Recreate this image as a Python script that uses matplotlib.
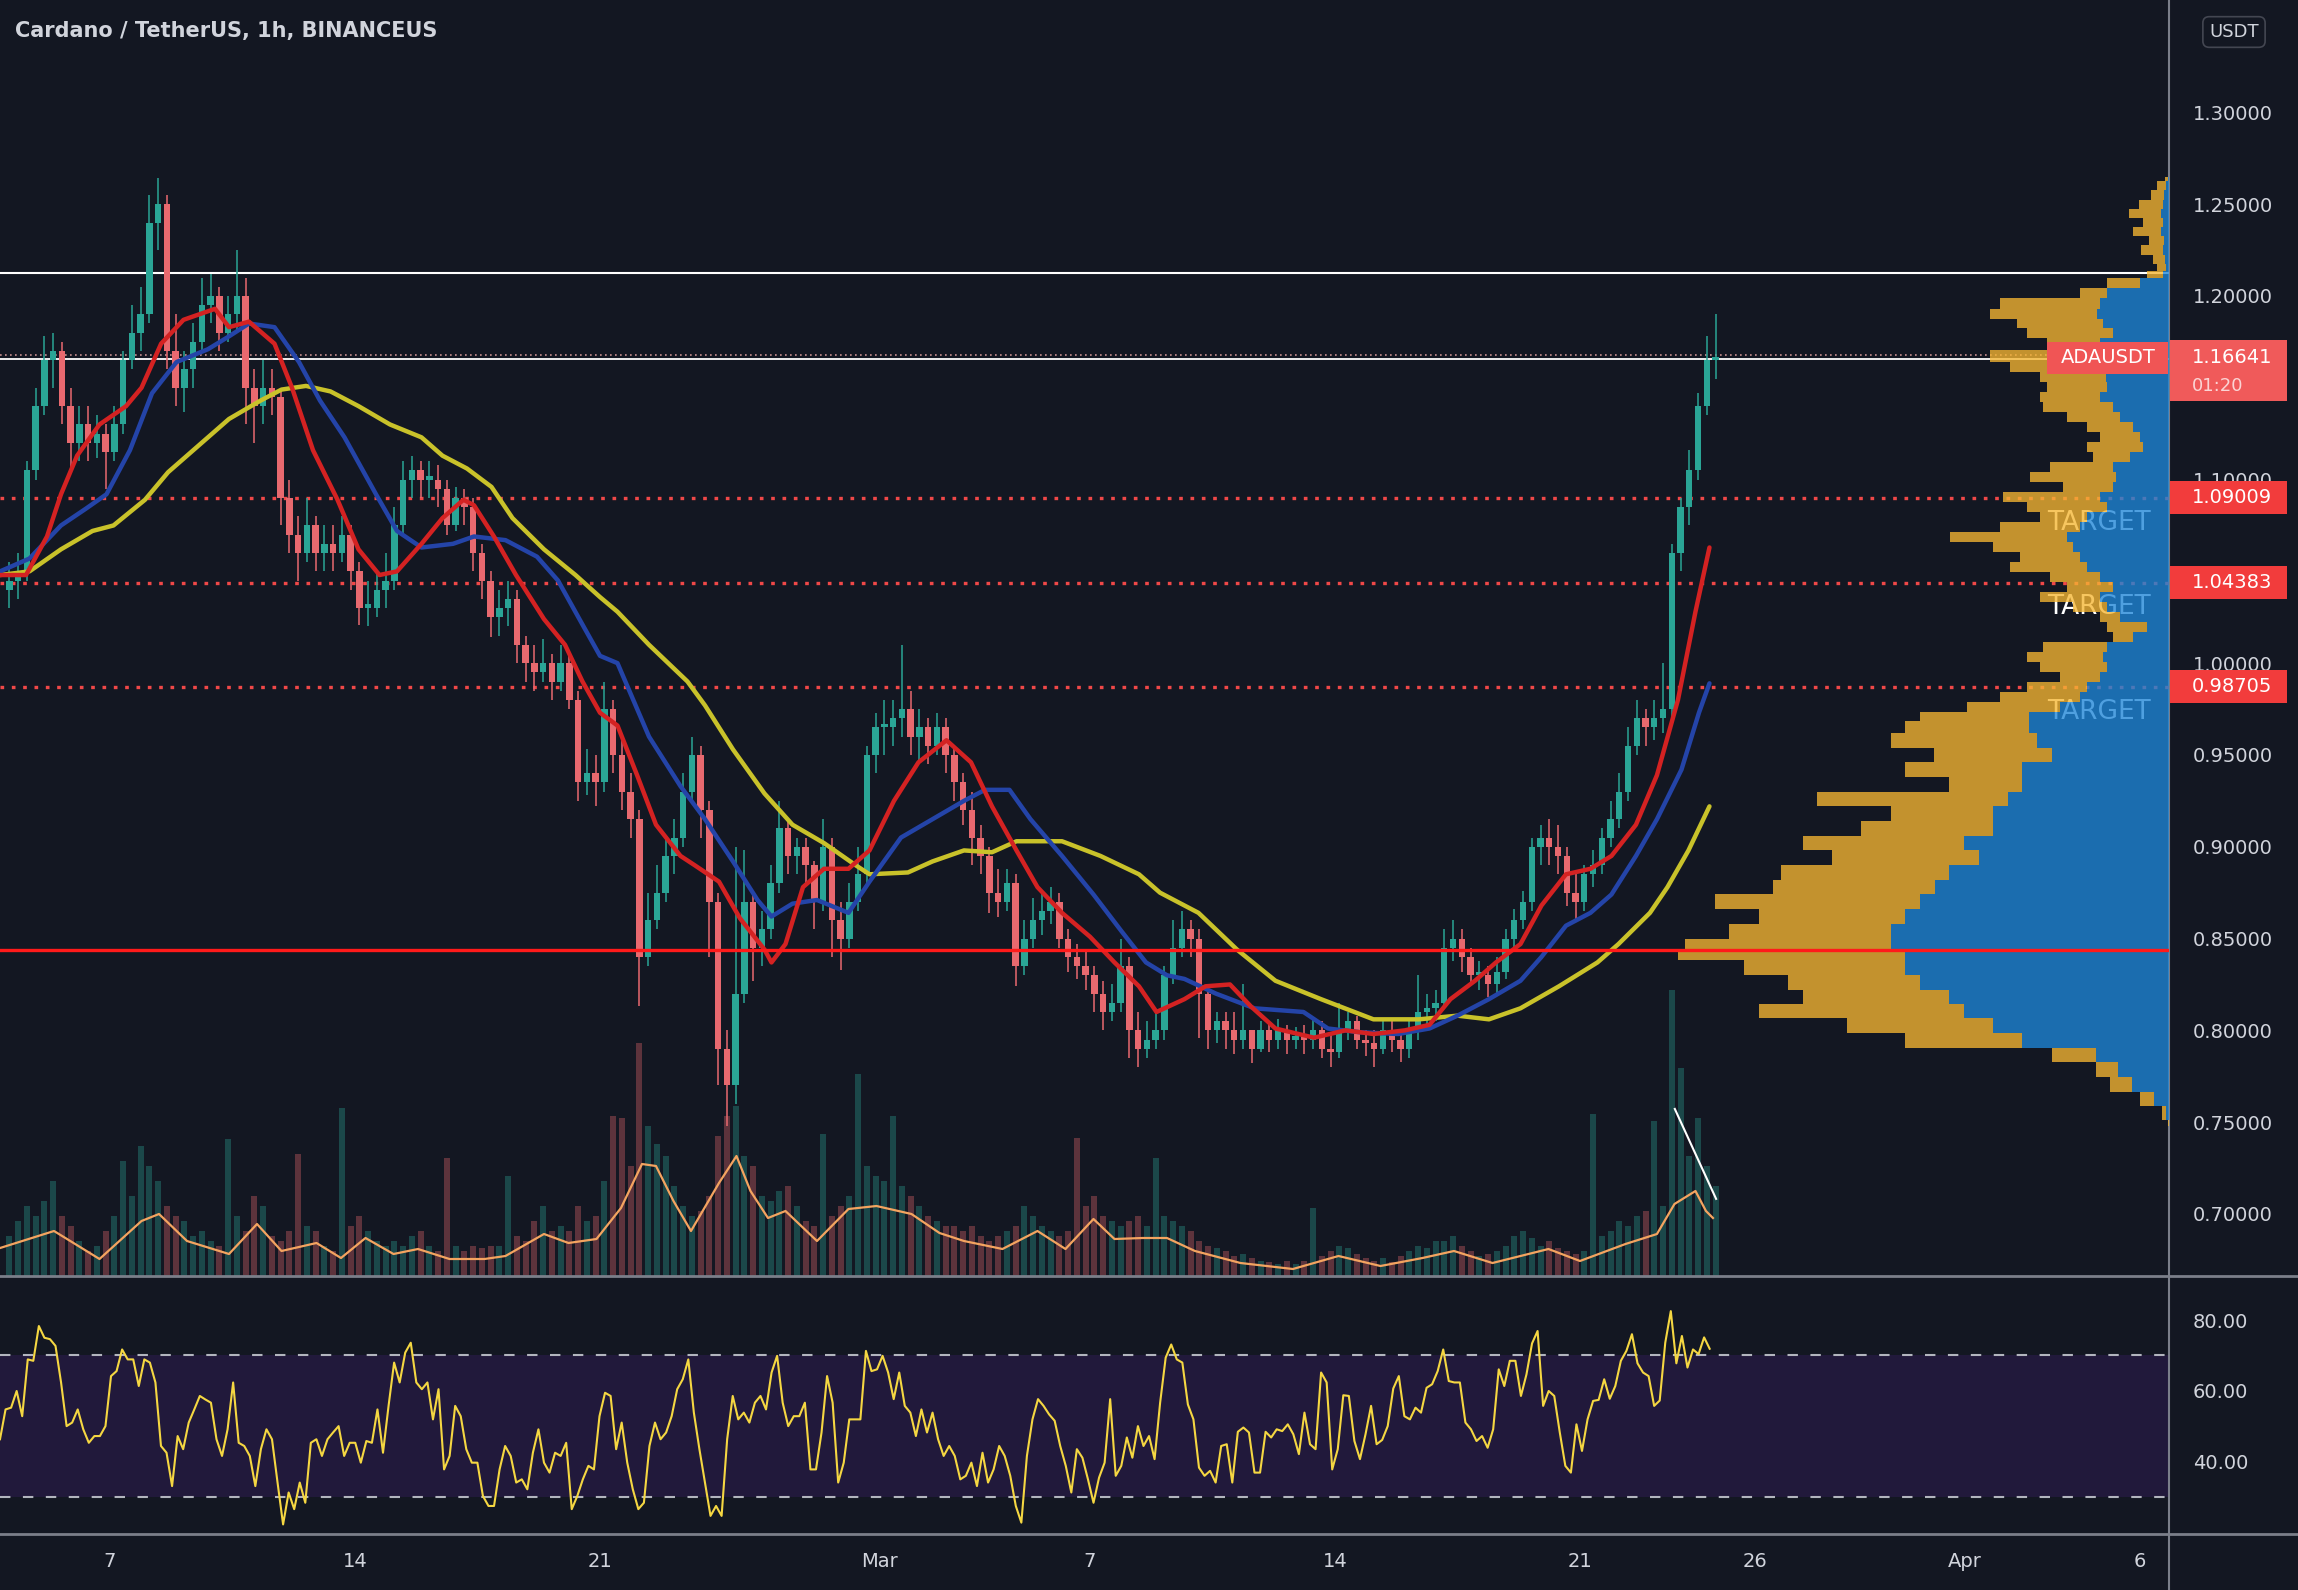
import numpy as np
import matplotlib.pyplot as plt
from matplotlib.patches import Rectangle
from matplotlib.lines import Line2D

# time axis: days counted from 1 Feb 2022 00:00 (Feb 7 = 6, Mar 1 = 28, Apr 1 = 59)
# candles resampled to 6 hours, first one opens 4 Feb 00:00
candle_start = 3.0
candle_step = 0.25
first_open = 1.04

close = [1.045, 1.05, 1.105, 1.14, 1.165, 1.17, 1.14, 1.12, 1.13, 1.12, 1.125, 1.115,
         1.13, 1.165, 1.18, 1.19, 1.24, 1.25, 1.17, 1.15, 1.16, 1.175, 1.195, 1.2,
         1.18, 1.19, 1.2, 1.15, 1.14, 1.15, 1.145, 1.09, 1.07, 1.06, 1.075, 1.06,
         1.065, 1.06, 1.07, 1.05, 1.03, 1.03, 1.04, 1.045, 1.075, 1.1, 1.105, 1.1,
         1.1, 1.095, 1.075, 1.09, 1.085, 1.06, 1.045, 1.025, 1.03, 1.035, 1.01, 1.0,
         0.995, 1.0, 0.99, 1.0, 0.98, 0.935, 0.94, 0.935, 0.975, 0.95, 0.93, 0.915,
         0.84, 0.86, 0.875, 0.895, 0.905, 0.93, 0.95, 0.92, 0.87, 0.79, 0.77, 0.82,
         0.87, 0.845, 0.855, 0.88, 0.91, 0.895, 0.9, 0.89, 0.87, 0.9, 0.86, 0.85,
         0.87, 0.885, 0.95, 0.965, 0.965, 0.97, 0.975, 0.96, 0.965, 0.955, 0.965, 0.95,
         0.935, 0.92, 0.905, 0.895, 0.875, 0.87, 0.88, 0.835, 0.85, 0.86, 0.865, 0.87,
         0.85, 0.84, 0.835, 0.83, 0.82, 0.81, 0.815, 0.835, 0.8, 0.79, 0.795, 0.8,
         0.83, 0.845, 0.855, 0.85, 0.82, 0.8, 0.805, 0.8, 0.795, 0.8, 0.79, 0.8,
         0.795, 0.8, 0.795, 0.797, 0.795, 0.8, 0.79, 0.788, 0.8, 0.805, 0.795, 0.793,
         0.79, 0.8, 0.795, 0.79, 0.8, 0.81, 0.812, 0.815, 0.845, 0.85, 0.84, 0.83,
         0.83, 0.825, 0.832, 0.85, 0.86, 0.87, 0.9, 0.905, 0.9, 0.895, 0.875, 0.87,
         0.885, 0.89, 0.905, 0.915, 0.93, 0.955, 0.97, 0.965, 0.97, 0.975, 1.06, 1.085,
         1.105, 1.14, 1.165, 1.166]
high = [1.055, 1.06, 1.11, 1.15, 1.178, 1.18, 1.175, 1.15, 1.14, 1.14, 1.135, 1.13,
        1.14, 1.17, 1.195, 1.205, 1.255, 1.264, 1.255, 1.19, 1.17, 1.185, 1.21, 1.212,
        1.205, 1.2, 1.225, 1.21, 1.16, 1.165, 1.16, 1.15, 1.1, 1.08, 1.09, 1.08,
        1.075, 1.075, 1.08, 1.075, 1.055, 1.045, 1.05, 1.06, 1.085, 1.11, 1.113, 1.11,
        1.11, 1.108, 1.1, 1.096, 1.095, 1.09, 1.065, 1.05, 1.04, 1.045, 1.04, 1.015,
        1.01, 1.013, 1.005, 1.01, 1.005, 0.985, 0.953, 0.95, 0.99, 0.98, 0.96, 0.94,
        0.92, 0.875, 0.89, 0.905, 0.915, 0.94, 0.96, 0.955, 0.925, 0.875, 0.8, 0.9,
        0.898, 0.875, 0.865, 0.89, 0.925, 0.915, 0.905, 0.905, 0.892, 0.915, 0.905, 0.87,
        0.88, 0.9, 0.955, 0.973, 0.98, 0.98, 1.01, 0.985, 0.975, 0.97, 0.973, 0.97,
        0.955, 0.94, 0.93, 0.912, 0.9, 0.888, 0.888, 0.885, 0.86, 0.872, 0.874, 0.878,
        0.875, 0.855, 0.847, 0.843, 0.835, 0.827, 0.825, 0.85, 0.84, 0.81, 0.805, 0.81,
        0.835, 0.86, 0.865, 0.86, 0.855, 0.825, 0.81, 0.81, 0.81, 0.825, 0.8, 0.805,
        0.805, 0.806, 0.803, 0.802, 0.803, 0.806, 0.805, 0.798, 0.815, 0.81, 0.808, 0.8,
        0.8, 0.806, 0.805, 0.8, 0.805, 0.83, 0.82, 0.822, 0.855, 0.86, 0.855, 0.845,
        0.838, 0.835, 0.84, 0.855, 0.866, 0.876, 0.905, 0.912, 0.915, 0.912, 0.9, 0.885,
        0.89, 0.898, 0.91, 0.925, 0.94, 0.965, 0.98, 0.975, 0.98, 1.0, 1.065, 1.09,
        1.116, 1.147, 1.178, 1.19]
low = [1.03, 1.035, 1.045, 1.1, 1.135, 1.15, 1.13, 1.105, 1.11, 1.11, 1.112, 1.095,
       1.11, 1.125, 1.16, 1.17, 1.185, 1.225, 1.16, 1.14, 1.137, 1.15, 1.17, 1.185,
       1.17, 1.175, 1.18, 1.13, 1.12, 1.13, 1.135, 1.075, 1.06, 1.045, 1.055, 1.05,
       1.05, 1.05, 1.055, 1.04, 1.021, 1.02, 1.025, 1.03, 1.04, 1.07, 1.09, 1.09,
       1.09, 1.085, 1.07, 1.072, 1.075, 1.05, 1.035, 1.014, 1.015, 1.02, 1.0, 0.99,
       0.985, 0.99, 0.98, 0.985, 0.975, 0.925, 0.928, 0.922, 0.93, 0.94, 0.92, 0.905,
       0.813, 0.835, 0.855, 0.87, 0.885, 0.9, 0.925, 0.905, 0.84, 0.77, 0.748, 0.76,
       0.815, 0.827, 0.835, 0.85, 0.875, 0.885, 0.885, 0.88, 0.855, 0.865, 0.84, 0.833,
       0.845, 0.865, 0.88, 0.94, 0.95, 0.955, 0.96, 0.95, 0.945, 0.945, 0.95, 0.94,
       0.925, 0.912, 0.89, 0.885, 0.864, 0.862, 0.865, 0.824, 0.83, 0.845, 0.852, 0.858,
       0.845, 0.832, 0.828, 0.822, 0.81, 0.8, 0.805, 0.81, 0.785, 0.78, 0.785, 0.79,
       0.795, 0.825, 0.84, 0.84, 0.796, 0.79, 0.793, 0.79, 0.787, 0.79, 0.782, 0.788,
       0.788, 0.79, 0.787, 0.79, 0.787, 0.79, 0.785, 0.78, 0.785, 0.795, 0.79, 0.786,
       0.78, 0.787, 0.788, 0.783, 0.785, 0.795, 0.803, 0.805, 0.812, 0.838, 0.832, 0.825,
       0.822, 0.818, 0.82, 0.828, 0.845, 0.855, 0.865, 0.89, 0.89, 0.885, 0.868, 0.86,
       0.865, 0.878, 0.885, 0.9, 0.91, 0.925, 0.95, 0.955, 0.958, 0.962, 0.97, 1.05,
       1.075, 1.1, 1.135, 1.155]
volume = [40, 55, 70, 60, 75, 95, 60, 50, 35, 25, 30, 45, 60, 115, 80, 130,
          110, 95, 70, 60, 55, 40, 45, 35, 30, 137, 60, 45, 80, 70, 40, 35,
          45, 122, 50, 45, 30, 25, 168, 50, 60, 45, 35, 30, 35, 30, 40, 45,
          30, 25, 118, 30, 25, 30, 28, 30, 30, 100, 40, 35, 55, 70, 45, 50,
          45, 70, 55, 60, 95, 160, 158, 110, 233, 150, 132, 120, 90, 70, 60, 65,
          80, 140, 160, 170, 120, 110, 80, 75, 85, 90, 70, 55, 50, 142, 60, 70,
          80, 202, 110, 100, 95, 160, 90, 80, 70, 60, 55, 50, 50, 45, 50, 40,
          35, 40, 45, 50, 70, 60, 50, 45, 40, 45, 138, 70, 80, 60, 55, 50,
          55, 60, 50, 118, 60, 55, 50, 45, 35, 30, 28, 25, 20, 22, 18, 15,
          14, 12, 15, 12, 15, 68, 20, 25, 30, 28, 22, 18, 15, 18, 14, 20,
          25, 30, 28, 35, 35, 40, 30, 25, 20, 22, 25, 30, 40, 45, 38, 30,
          35, 28, 25, 22, 25, 162, 40, 45, 55, 50, 60, 65, 155, 70, 286, 208,
          120, 158, 110, 90]

vol_ma_days = [2.86, 4.4, 5.7, 6.9, 7.4, 8.2, 9.4, 10.2, 10.9, 11.9, 12.6, 13.3, 14.1, 14.8,
               15.7, 16.7, 17.3, 18.4, 19.1, 19.9, 20.6, 21.2, 21.6, 22.1, 22.6, 23.4, 23.9,
               24.3, 24.8, 25.3, 26.2, 27.1, 27.9, 28.9, 29.7, 30.4, 31.5, 32.5, 33.3, 34.1,
               34.7, 35.5, 36.2, 37.0, 38.3, 39.8, 41.1, 42.3, 43.5, 44.4, 45.5, 47.1, 48.0,
               49.3, 50.2, 50.7, 51.3, 51.6, 51.8]
vol_ma = [28, 45, 17, 55, 62, 35, 22, 52, 25, 33, 18, 38, 22, 27, 17, 17, 20, 42, 33, 37,
          68, 112, 110, 75, 45, 93, 120, 85, 58, 65, 35, 67, 70, 62, 43, 35, 27, 45, 27,
          57, 37, 38, 38, 25, 13, 7, 20, 10, 18, 25, 13, 27, 15, 32, 42, 72, 85, 65, 58]

red_days = [2.86, 3.6, 4.2, 4.6, 5.06, 5.7, 6.46, 6.9, 7.46, 8.1, 9.0, 9.4, 9.97, 10.7, 11.2,
            11.8, 12.5, 13.1, 13.7, 14.2, 14.9, 15.5, 16.1, 16.4, 16.97, 17.6, 18.4, 19.0,
            19.5, 20.0, 20.5, 21.06, 21.6, 22.3, 22.7, 23.4, 24.0, 24.7, 24.9, 25.3, 25.8,
            26.4, 27.1, 27.7, 28.4, 29.1, 29.9, 30.6, 31.2, 31.9, 32.5, 33.2, 34.0, 34.7,
            35.4, 35.9, 36.7, 37.3, 38.0, 38.6, 39.3, 40.4, 41.3, 42.1, 43.0, 43.7, 44.3,
            45.0, 45.6, 46.3, 46.9, 47.6, 48.3, 48.9, 49.6, 50.2, 50.8, 51.3, 51.7]
red_ma = [1.048, 1.048, 1.069, 1.092, 1.113, 1.13, 1.14, 1.15, 1.174, 1.187, 1.193, 1.183,
          1.186, 1.174, 1.15, 1.116, 1.089, 1.062, 1.048, 1.05, 1.065, 1.079, 1.089, 1.086,
          1.069, 1.048, 1.024, 1.01, 0.99, 0.973, 0.966, 0.939, 0.912, 0.895, 0.89, 0.881,
          0.861, 0.844, 0.837, 0.847, 0.878, 0.888, 0.888, 0.898, 0.925, 0.946, 0.958, 0.946,
          0.922, 0.898, 0.878, 0.864, 0.851, 0.837, 0.824, 0.81, 0.817, 0.824, 0.825, 0.813,
          0.801, 0.796, 0.8, 0.798, 0.8, 0.803, 0.817, 0.827, 0.837, 0.847, 0.868, 0.885,
          0.888, 0.895, 0.912, 0.939, 0.98, 1.028, 1.063]

blue_days = [2.86, 3.7, 4.6, 5.3, 5.9, 6.57, 7.2, 7.9, 8.8, 9.4, 9.97, 10.7, 11.4, 12.0, 12.7,
             13.6, 14.2, 14.9, 15.8, 16.4, 17.3, 18.2, 18.8, 19.5, 20.0, 20.5, 21.4, 22.3,
             23.0, 23.8, 24.5, 24.9, 25.5, 26.2, 27.1, 27.7, 28.6, 29.5, 30.4, 31.0, 31.7,
             32.3, 33.2, 34.1, 34.9, 35.6, 36.2, 36.7, 37.6, 38.7, 40.1, 40.8, 41.7, 42.8,
             43.7, 44.5, 45.4, 46.3, 46.9, 47.6, 48.3, 48.9, 49.6, 50.2, 50.9, 51.4, 51.7]
blue_ma = [1.05, 1.057, 1.075, 1.084, 1.092, 1.116, 1.147, 1.164, 1.171, 1.178, 1.185, 1.183,
           1.164, 1.143, 1.123, 1.092, 1.072, 1.063, 1.065, 1.069, 1.067, 1.058, 1.045, 1.021,
           1.004, 1.0, 0.96, 0.933, 0.915, 0.892, 0.871, 0.862, 0.869, 0.871, 0.864, 0.881,
           0.905, 0.915, 0.925, 0.931, 0.931, 0.915, 0.895, 0.874, 0.854, 0.837, 0.83, 0.828,
           0.82, 0.812, 0.81, 0.801, 0.799, 0.798, 0.801, 0.808, 0.817, 0.827, 0.84, 0.857,
           0.864, 0.874, 0.895, 0.915, 0.942, 0.973, 0.989]

yellow_days = [2.86, 3.7, 4.6, 5.5, 6.1, 7.0, 7.66, 8.5, 9.4, 10.3, 10.9, 11.6, 12.3, 13.1,
               14.0, 14.9, 15.5, 16.2, 16.9, 17.5, 18.4, 19.3, 20.0, 20.5, 21.4, 22.5, 23.0,
               23.8, 24.7, 25.5, 26.4, 27.3, 27.7, 28.8, 29.5, 30.4, 31.2, 31.9, 33.2, 34.3,
               35.4, 36.0, 37.1, 38.2, 39.3, 40.6, 42.1, 43.4, 44.5, 45.4, 46.3, 47.4, 48.5,
               49.1, 50.0, 50.5, 51.1, 51.7]
yellow_ma = [1.048, 1.05, 1.062, 1.072, 1.075, 1.089, 1.104, 1.118, 1.133, 1.143, 1.149, 1.151,
             1.148, 1.14, 1.13, 1.123, 1.113, 1.106, 1.096, 1.079, 1.062, 1.048, 1.036, 1.028,
             1.01, 0.99, 0.977, 0.953, 0.929, 0.912, 0.902, 0.89, 0.885, 0.886, 0.892, 0.898,
             0.897, 0.903, 0.903, 0.895, 0.885, 0.875, 0.864, 0.844, 0.827, 0.817, 0.806,
             0.806, 0.808, 0.806, 0.812, 0.824, 0.837, 0.847, 0.864, 0.878, 0.898, 0.922]

rsi_start = 2.857
rsi_step = 0.1586
rsi = [46.4, 54.8, 55.3, 60.0, 52.9, 68.9, 68.5, 78.3, 75.0, 74.6, 72.7, 62.4, 50.1, 51.1,
       54.8, 49.2, 45.4, 47.3, 47.3, 50.1, 64.2, 65.6, 71.7, 68.9, 68.9, 61.4, 68.9, 68.0,
       62.4, 44.5, 42.6, 33.2, 47.3, 43.6, 51.1, 54.8, 58.6, 57.6, 56.7, 46.4, 41.7, 49.2,
       62.4, 45.4, 44.5, 41.7, 33.2, 43.6, 49.2, 46.4, 34.2, 22.4, 31.4, 26.7, 34.2, 28.5,
       45.4, 46.4, 41.7, 46.4, 48.3, 50.1, 41.7, 45.4, 45.4, 39.8, 45.9, 45.4, 54.8, 42.6,
       55.8, 68.0, 62.4, 70.8, 73.6, 62.4, 60.5, 62.4, 52.0, 60.5, 37.9, 41.7, 55.8, 52.9,
       43.6, 39.8, 39.8, 30.4, 27.6, 27.6, 37.9, 44.5, 41.7, 34.2, 35.1, 32.3, 42.6, 49.2,
       39.8, 37.0, 42.6, 41.7, 45.4, 26.7, 30.4, 35.1, 38.9, 37.9, 52.9, 59.5, 58.6, 43.6,
       51.1, 39.8, 32.3, 26.7, 28.5, 44.5, 51.1, 46.4, 48.3, 52.9, 60.5, 63.3, 68.9, 53.9,
       43.6, 34.2, 24.8, 27.6, 24.8, 46.4, 58.6, 52.0, 53.9, 51.1, 56.7, 58.6, 54.8, 65.2,
       69.9, 56.7, 50.1, 52.9, 52.9, 56.7, 37.9, 37.9, 48.3, 64.2, 56.7, 34.2, 39.8, 52.0,
       52.0, 52.0, 71.3, 65.6, 66.1, 69.9, 65.2, 57.7, 65.2, 55.8, 53.9, 47.3, 54.8, 48.3,
       53.9, 46.4, 41.7, 44.5, 41.7, 35.1, 36.1, 39.8, 33.2, 42.6, 34.2, 37.9, 44.5, 41.7,
       36.1, 27.6, 22.9, 41.7, 52.0, 57.7, 55.8, 53.4, 51.6, 44.5, 38.9, 31.4, 43.6, 41.2,
       35.1, 28.5, 35.6, 39.8, 57.7, 36.1, 38.9, 46.9, 41.2, 50.1, 44.5, 47.3, 40.8, 56.7,
       69.4, 73.1, 68.9, 68.0, 56.2, 52.0, 38.4, 36.1, 37.5, 34.2, 44.5, 45.0, 34.2, 48.5,
       49.7, 48.3, 37.0, 37.0, 48.5, 46.9, 49.2, 48.7, 50.6, 47.8, 42.2, 53.9, 45.0, 43.6,
       65.2, 62.4, 37.9, 43.6, 58.8, 58.6, 45.9, 40.8, 47.8, 55.8, 45.0, 46.2, 50.1, 60.7,
       64.2, 52.9, 52.0, 55.3, 53.9, 60.9, 61.9, 65.6, 71.7, 62.8, 62.4, 62.4, 51.1, 49.2,
       45.9, 47.3, 44.0, 49.2, 66.1, 61.4, 68.5, 68.5, 58.6, 64.7, 73.4, 76.9, 55.8, 60.0,
       58.6, 48.3, 38.9, 37.0, 50.6, 43.1, 52.0, 57.2, 57.5, 63.3, 57.8, 61.4, 68.5, 71.3,
       76.0, 67.8, 65.2, 64.2, 55.8, 57.3, 73.6, 82.5, 67.8, 75.5, 66.6, 71.7, 70.4, 75.1,
       71.9]

# visible range volume profile (price level, total, blue part)
vp_price = [1.265, 1.26, 1.255, 1.25, 1.245, 1.24, 1.235, 1.23, 1.225, 1.22, 1.215, 1.2125,
            1.207, 1.2016, 1.196, 1.19, 1.185, 1.18, 1.174, 1.167, 1.161, 1.156, 1.15, 1.145,
            1.1395, 1.134, 1.129, 1.123, 1.118, 1.112, 1.107, 1.101, 1.096, 1.0905, 1.085,
            1.0796, 1.074, 1.069, 1.063, 1.058, 1.052, 1.047, 1.0415, 1.036, 1.0306, 1.025,
            1.0197, 1.014, 1.0087, 1.0033, 0.998, 0.9925, 0.987, 0.9816, 0.976, 0.9707, 0.966,
            0.958, 0.95, 0.942, 0.934, 0.926, 0.918, 0.91, 0.902, 0.894, 0.886, 0.878, 0.87,
            0.862, 0.854, 0.846, 0.842, 0.8345, 0.826, 0.818, 0.8106, 0.8024, 0.7942, 0.7866,
            0.7784, 0.7703, 0.7626, 0.7545, 0.748]
vp_total = [4, 12, 18, 30, 40, 26, 36, 20, 28, 16, 12, 22, 62, 89, 169, 179, 152, 142, 122,
            179, 159, 129, 122, 129, 126, 102, 82, 69, 82, 76, 119, 139, 106, 166, 142, 129,
            169, 219, 176, 149, 159, 119, 102, 129, 96, 69, 62, 56, 126, 142, 129, 109, 142,
            169, 202, 249, 264, 278, 235, 264, 220, 352, 278, 308, 366, 337, 388, 396, 454,
            410, 440, 484, 491, 425, 381, 366, 410, 322, 264, 117, 73, 59, 29, 7, 1]
vp_blue = [1, 3, 5, 6, 8, 6, 8, 5, 6, 4, 3, 6, 29, 62, 69, 72, 66, 56, 69, 62, 62, 63, 62,
           69, 56, 49, 36, 29, 26, 39, 56, 53, 56, 69, 62, 82, 89, 102, 96, 89, 82, 69, 56,
           69, 62, 49, 22, 36, 62, 66, 62, 69, 82, 89, 109, 140, 140, 132, 117, 147, 147, 161,
           176, 176, 205, 190, 220, 234, 249, 264, 278, 278, 264, 264, 249, 220, 205, 176,
           147, 73, 51, 37, 15, 3, 0]

targets = [1.09009, 1.04383, 0.98705]
support = 0.8435
resistance = 1.2125
last_price = 1.16641
trend_days = [50.71, 51.89]
trend_price = [0.7572, 0.7082]

# 1.35, 1.15 and 1.05 sit under the USDT button / price boxes
price_ticks = [0.70, 0.75, 0.80, 0.85, 0.90, 0.95, 1.00, 1.10, 1.20, 1.25, 1.30]
x_ticks = [6, 13, 20, 28, 34, 41, 48, 53, 59, 64]
x_labels = ['7', '14', '21', 'Mar', '7', '14', '21', '26', 'Apr', '6']

BG = '#131722'
TXT = '#d1d4dc'
UP = '#2aa596'
DN = '#e8696f'
W, H = 2298, 1590
XMIN, XMAX = 2.857, 64.83
PMIN, PMAX = 0.6662, 1.3612


def box(x0, y0, x1, y1):
    # pixel box (y from top) -> figure rect
    return [x0 / W, 1 - y1 / H, (x1 - x0) / W, (y1 - y0) / H]


fig = plt.figure(figsize=(W / 100, H / 100), dpi=100, facecolor=BG)

ax = fig.add_axes(box(0, 0, 2169, 1276))
ax_vol = ax.twinx()
ax.set_zorder(2)
ax_vol.set_zorder(1)
ax.patch.set_visible(False)
ax_vol.set_facecolor(BG)

# volume bars + their moving average
n = len(close)
t = candle_start + candle_step * np.arange(n) + candle_step / 2
opens = np.array([first_open] + close[:-1])
close_a = np.array(close)
up = close_a >= opens
vcol = [UP if u else DN for u in up]
ax_vol.bar(t, volume, width=candle_step * 0.7, color=vcol, alpha=0.35, lw=0)
ax_vol.plot(vol_ma_days, vol_ma, color='#f4a460', lw=1.6)
ax_vol.set_ylim(0, 1276)
ax_vol.set_yticks([])
for s in ax_vol.spines.values():
    s.set_visible(False)

# level lines
for p in targets:
    ax.axhline(p, color='#f04848', lw=2.4, ls=(0, (1.1, 2.3)), zorder=1)
ax.axhline(resistance, color='white', lw=1.5, zorder=1)
ax.axhline(last_price + 0.0012, color='#c99090', lw=1.2, ls=(0, (1, 2)), zorder=1)
ax.axhline(last_price - 0.0005, color='white', lw=1.3, zorder=1)

# candles
cc = np.where(up, UP, DN)
ax.vlines(t, low, high, colors=cc, lw=1.1, zorder=3)
body_lo = np.minimum(opens, close_a)
body_h = np.maximum(np.abs(close_a - opens), 0.002)
ax.bar(t, body_h, bottom=body_lo, width=candle_step * 0.72, color=cc, lw=0, zorder=3)

# moving averages
ax.plot(yellow_days, yellow_ma, color='#c9c22a', lw=3.2, zorder=4, solid_capstyle='round')
ax.plot(blue_days, blue_ma, color='#2444a8', lw=3.2, zorder=4, solid_capstyle='round')
ax.plot(red_days, red_ma, color='#d42222', lw=3.2, zorder=4, solid_capstyle='round')
ax.plot(trend_days, trend_price, color='white', lw=1.5, zorder=4)

# TARGET labels sit under the semi-transparent profile
for p, dy in zip(targets, [-0.0137, -0.0133, -0.0137]):
    ax.text(62.83, p + dy, 'TARGET', color='white', fontsize=19, ha='center', va='center',
            zorder=2)

ax.set_xlim(XMIN, XMAX)
ax.set_ylim(PMIN, PMAX)
ax.yaxis.tick_right()
ax.set_yticks(price_ticks)
ax.set_yticklabels(['%.5f' % v for v in price_ticks])
ax.tick_params(axis='y', length=0, pad=17, labelsize=14, labelcolor=TXT)
ax.tick_params(axis='x', length=0, labelbottom=False)
for s in ax.spines.values():
    s.set_visible(False)

# volume profile, anchored to the right edge of the price pane
ax_vp = fig.add_axes(box(0, 0, 2169, 1276))
ax_vp.set_zorder(3)
ax_vp.patch.set_visible(False)
ax_vp.set_xlim(2169, 0)
ax_vp.set_ylim(PMIN, PMAX)
ax_vp.fill_betweenx(vp_price, vp_blue, vp_total, step='mid', color='#f6b632', alpha=0.78, lw=0)
ax_vp.fill_betweenx(vp_price, 0, vp_blue, step='mid', color='#1e86d8', alpha=0.78, lw=0)
ax_vp.axhline(support, color='#ff1a1a', lw=2.4)
ppp = 1276 / (PMAX - PMIN)
ax_vp.add_patch(Rectangle((1, last_price - 16 / ppp), 121, 32 / ppp, color='#f05555', lw=0))
ax_vp.text(61, last_price, 'ADAUSDT', color='white', fontsize=14, ha='center', va='center')
ax_vp.axis('off')

# price labels on the right scale
ax_lab = fig.add_axes(box(2169, 0, 2298, 1276))
ax_lab.set_zorder(4)
ax_lab.patch.set_visible(False)
ax_lab.set_xlim(0, 129)
ax_lab.set_ylim(PMIN, PMAX)
ax_lab.axis('off')
for p in targets:
    ax_lab.add_patch(Rectangle((1, p - 16.5 / ppp), 117, 33 / ppp, color='#f23c3c', lw=0))
    ax_lab.text(23, p, '%.5f' % p, color='white', fontsize=14, va='center')
ax_lab.add_patch(Rectangle((1, last_price - 43 / ppp), 117, 61 / ppp, color='#f05a5a', lw=0))
ax_lab.text(23, last_price, '%.5f' % last_price, color='white', fontsize=14, va='center')
ax_lab.text(23, last_price - 28 / ppp, '01:20', color='#fbd4d4', fontsize=13, va='center')

fig.text(2234 / W, 1 - 32 / H, 'USDT', color=TXT, fontsize=13, ha='center', va='center',
         zorder=10, bbox=dict(boxstyle='round,pad=0.35', fc=BG, ec='#434651', lw=1.2))

# RSI pane
ax_rsi = fig.add_axes(box(0, 1276, 2169, 1534))
ax_rsi.set_facecolor(BG)
ax_rsi.axhspan(30, 70, color='#21193b', lw=0)
ax_rsi.axhline(70, color='#b2b5be', lw=1.5, ls=(0, (5, 6)))
ax_rsi.axhline(30, color='#b2b5be', lw=1.5, ls=(0, (5, 6)))
rsi_t = rsi_start + rsi_step * np.arange(len(rsi))
ax_rsi.plot(rsi_t, rsi, color='#f5d742', lw=1.5)
ax_rsi.set_xlim(XMIN, XMAX)
ax_rsi.set_ylim(19.7, 92.4)
ax_rsi.yaxis.tick_right()
ax_rsi.set_yticks([40, 60, 80])
ax_rsi.set_yticklabels(['40.00', '60.00', '80.00'])
ax_rsi.tick_params(axis='y', length=0, pad=17, labelsize=14, labelcolor=TXT)
ax_rsi.set_xticks(x_ticks)
ax_rsi.set_xticklabels(x_labels)
ax_rsi.tick_params(axis='x', length=0, pad=13, labelsize=14, labelcolor=TXT)
for s in ax_rsi.spines.values():
    s.set_visible(False)

# pane separators
sep = '#7b7f8a'
fig.add_artist(Line2D([0, 1], [1 - 1276 / H] * 2, color=sep, lw=2, transform=fig.transFigure))
fig.add_artist(Line2D([0, 1], [1 - 1534 / H] * 2, color=sep, lw=2, transform=fig.transFigure))
fig.add_artist(Line2D([2169 / W] * 2, [0, 1], color=sep, lw=1.5, transform=fig.transFigure))

fig.text(15 / W, 1 - 31 / H, 'Cardano / TetherUS, 1h, BINANCEUS', color=TXT, fontsize=15,
         fontweight='bold', va='center')

fig.savefig('out.png', dpi=100, facecolor=BG)
